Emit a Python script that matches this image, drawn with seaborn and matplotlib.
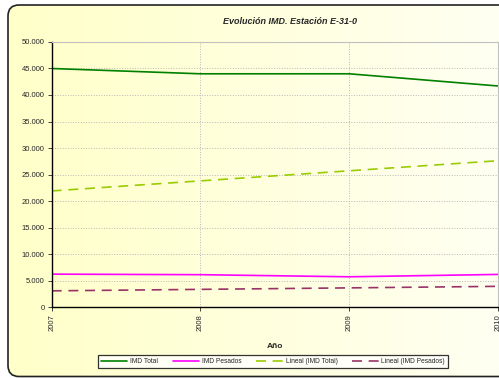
import numpy as np
import pandas as pd
import matplotlib
matplotlib.use("Agg")
import matplotlib.pyplot as plt
import seaborn as sns
from matplotlib.patches import FancyBboxPatch
from matplotlib.transforms import IdentityTransform
from matplotlib.ticker import FuncFormatter

# Data
years = [2007, 2008, 2009, 2010]
imd_total = [45000, 44000, 44000, 41700]
imd_pesados = [6200, 6100, 5700, 6150]
lineal_total = [21900, 23800, 25700, 27600]
lineal_pesados = [3050, 3330, 3610, 3900]

series_names = ["IMD Total", "IMD Pesados", "Lineal (IMD Total)", "Lineal (IMD Pesados)"]
series_colors = ["#008000", "#ff00ff", "#99cc00", "#993366"]
series_dashes = [None, None, (6, 4), (6, 4)]


def main():
    df = pd.DataFrame({
        "Año": years * 4,
        "IMD": imd_total + imd_pesados + lineal_total + lineal_pesados,
        "serie": sum([[n] * len(years) for n in series_names], []),
    })

    sns.set_style("white")
    plt.rcParams["font.family"] = ["Liberation Sans", "DejaVu Sans"]

    fig = plt.figure(figsize=(4.99, 3.78), dpi=100)
    fig.patch.set_facecolor("white")

    # gradient background inside the rounded frame (pixel coords)
    bg = fig.add_axes([0, 0, 1, 1], zorder=-10)
    bg.set_axis_off()
    grad = np.linspace(0, 1, 256)[None, :]
    cmap = matplotlib.colors.LinearSegmentedColormap.from_list("bg", ["#ffffc8", "#fffff2"])
    frame = FancyBboxPatch((8, 1.5), 600, 371.5, boxstyle="round,pad=0,rounding_size=11",
                           transform=IdentityTransform(), facecolor="none",
                           edgecolor="#222222", lw=1.2)
    im = bg.imshow(grad, aspect="auto", cmap=cmap, extent=[0, 1, 0, 1], transform=fig.transFigure)
    im.set_clip_path(frame)
    fig.patches.append(frame)

    ax = fig.add_axes([0.1036, 0.1878, 0.8944, 0.7011])
    ax.set_facecolor("none")

    for name, color in zip(series_names, series_colors):
        sub = df[df["serie"] == name]
        sns.lineplot(data=sub, x="Año", y="IMD", ax=ax, color=color, lw=1.2, label=name)
    for l, dash in zip(ax.get_lines(), series_dashes):
        if dash is not None:
            l.set_dashes(dash)

    ax.set_xlim(2007, 2010)
    ax.set_ylim(0, 50000)
    ax.set_yticks(np.arange(0, 50001, 5000))
    ax.yaxis.set_major_formatter(FuncFormatter(lambda v, p: f"{int(v):,}".replace(",", ".")))
    ax.set_xticks(years)
    ax.set_xticklabels([str(y) for y in years], rotation=90, fontsize=5.5)
    ax.tick_params(axis="y", labelsize=5.5, length=3, width=0.6, direction="out", left=True, pad=2)
    ax.tick_params(axis="x", length=3, width=0.6, direction="out", bottom=True, pad=2)
    ax.grid(True, color="#b8b8b8", ls=":", lw=0.7)

    for s in ["left", "bottom"]:
        ax.spines[s].set_color("black")
        ax.spines[s].set_linewidth(1.0)
    for s in ["top", "right"]:
        ax.spines[s].set_color("#c0c0c0")
        ax.spines[s].set_linewidth(0.8)

    ax.set_ylabel("")
    ax.set_xlabel("Año", fontsize=6, fontweight="bold", labelpad=9)

    fig.text(0.581, 0.944, "Evolución IMD. Estación E-31-0", ha="center", va="center",
             fontsize=6.5, fontweight="bold", fontstyle="italic")

    leg = ax.legend(loc="center", bbox_to_anchor=(0.547, 0.044), bbox_transform=fig.transFigure,
                    ncol=4, fontsize=4.8, frameon=True, fancybox=False, handlelength=4,
                    columnspacing=2.2, borderpad=0.45, handletextpad=0.4)
    leg.get_frame().set_edgecolor("black")
    leg.get_frame().set_linewidth(0.9)
    leg.get_frame().set_facecolor("white")

    fig.savefig("out.png", dpi=100)


if __name__ == "__main__":
    main()
